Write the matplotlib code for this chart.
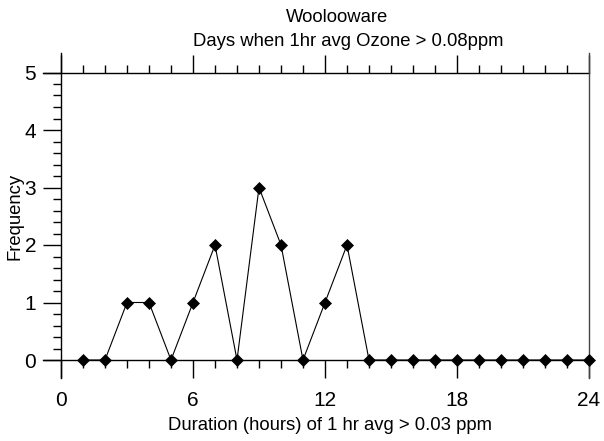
import numpy as np
import matplotlib
matplotlib.use("Agg")
import matplotlib.pyplot as plt
from matplotlib.ticker import MultipleLocator

plt.rcParams['font.family'] = ['Liberation Sans', 'DejaVu Sans']

# duration (hours) vs number of days
hours = np.arange(1, 25)
freq = [0, 0, 1, 1, 0, 1, 2, 0, 3, 2, 0, 1, 2, 0,
        0, 0, 0, 0, 0, 0, 0, 0, 0, 0]
xticks = [0, 6, 12, 18, 24]
yticks = [0, 1, 2, 3, 4, 5]

fig = plt.figure(figsize=(6.04, 4.41), dpi=100)
ax = fig.add_axes([61/604, 1-360/441, 528/604, 287.5/441])

ax.plot(hours, freq, color='black', lw=0.8, marker='D', ms=5.9,
        mfc='black', mec='black', mew=0.5, clip_on=False, zorder=5)

ax.set_xlim(0, 24)
ax.set_ylim(0, 5)
for s in ax.spines.values():
    s.set_visible(False)

# crossing axis lines like the original
ax.axhline(0, xmin=-0.035, xmax=1, color='black', lw=1, clip_on=False)
ax.axhline(5, xmin=-0.035, xmax=1, color='black', lw=1, clip_on=False)
ax.axvline(0, ymin=-0.063, ymax=1.068, color='black', lw=1, clip_on=False)
ax.axvline(24, ymin=-0.063, ymax=1.068, color='#444444', lw=1, clip_on=False)

ax.set_xticks(xticks)
ax.set_yticks(yticks)
ax.xaxis.set_minor_locator(MultipleLocator(1))
ax.yaxis.set_minor_locator(MultipleLocator(0.2))
ax.tick_params(axis='x', which='both', direction='out', bottom=True, top=True,
               labelsize=15, pad=9, width=1)
ax.tick_params(axis='x', which='major', length=13)
ax.tick_params(axis='x', which='minor', length=5.8)
ax.tick_params(axis='y', which='both', direction='out', left=True, right=False,
               labelsize=15, pad=5, width=1)
ax.tick_params(axis='y', which='major', length=13)
ax.tick_params(axis='y', which='minor', length=5.8)

ax.set_xlabel('Duration (hours) of 1 hr avg > 0.03 ppm', fontsize=13.3, va='center')
ax.xaxis.set_label_coords(269/528, -65/287)
ax.set_ylabel('Frequency', fontsize=13.3, va='center')
ax.yaxis.set_label_coords(-46/528, 0.5)

fig.text(337/604, 1-17/441, 'Woolooware', ha='center', va='center', fontsize=13.3)
fig.text(348/604, 1-42/441, 'Days when 1hr avg Ozone > 0.08ppm', ha='center',
         va='center', fontsize=13.3)

fig.savefig('out.png', dpi=100)
